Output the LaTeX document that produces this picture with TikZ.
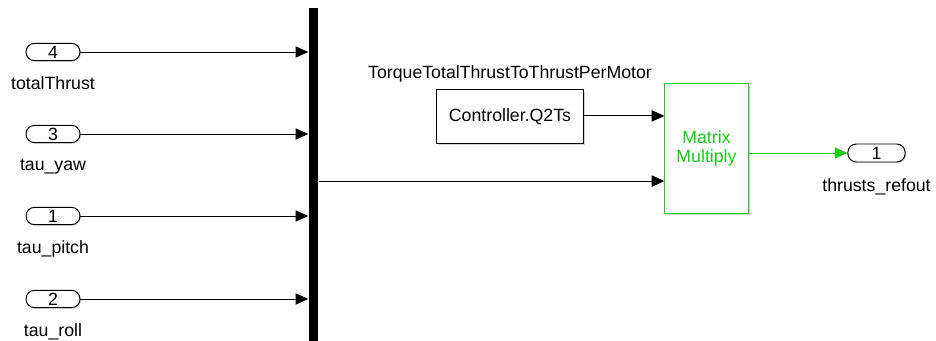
\documentclass[tikz,border=0pt]{standalone}
\usepackage{fontspec}
\setmainfont{Liberation Sans}
\usetikzlibrary{positioning,calc,arrows.meta,shadows}
\definecolor{mmgreen}{RGB}{25,205,25}
\tikzset{
  port/.style={draw, rounded corners=0.21cm, minimum width=1.35cm, minimum height=0.43cm,
    inner sep=0pt, fill=white, line width=0.7pt,
    drop shadow={opacity=0.35, shadow xshift=0.8pt, shadow yshift=-0.8pt}},
  blk/.style={draw, fill=white, inner sep=0pt, line width=0.7pt,
    drop shadow={opacity=0.35, shadow xshift=1.4pt, shadow yshift=-1.4pt}},
  portlbl/.style={inner sep=0pt},
}
\begin{document}
\begin{tikzpicture}[x=0.025cm, y=-0.025cm, >={Triangle[length=9pt,width=8pt]},
    font=\fontsize{12.6}{14}\selectfont, line width=0.7pt]
  \useasboundingbox (0,0) rectangle (936,341);
  % inports
  \node[port] (in4) at (53,52) {4};
  \node[port] (in3) at (53,134) {3};
  \node[port] (in1) at (53,216) {1};
  \node[port] (in2) at (53,299) {2};
  \node[portlbl, below=11pt of in4] (lbl4) {totalThrust};
  \node[portlbl, below=11pt of in3] (lbl3) {tau\_yaw};
  \node[portlbl, below=11pt of in1] (lbl1) {tau\_pitch};
  \node[portlbl, below=11pt of in2] (lbl2) {tau\_roll};
  % bus
  \node[fill=black, inner sep=0pt, minimum width=0.24cm, minimum height=8.5cm] (bus) at (313.5,178) {};
  % gain and product
  \node[blk, minimum width=3.65cm, minimum height=1.33cm] (gain) at (510,116.5) {Controller.Q2Ts};
  \node[portlbl, above=5pt of gain] (gainlbl) {TorqueTotalThrustToThrustPerMotor};
  \node[blk, draw=mmgreen, text=mmgreen, align=center, minimum width=2.08cm, minimum height=3.23cm]
    (mmul) at (706.5,148.5) {Matrix\\Multiply};
  % outport
  \node[port, minimum width=1.43cm, minimum height=0.45cm] (out1) at (876.5,153) {1};
  \node[portlbl, below=11pt of out1] (lblout) {thrusts\_refout};
  % connections
  \foreach \p in {in4,in3,in1,in2}
    \draw[->] (\p.east) -- (\p -| bus.west);
  \coordinate (mmin1) at ($(mmul.north west)!0.25!(mmul.south west)$);
  \coordinate (mmin2) at ($(mmul.north west)!0.75!(mmul.south west)$);
  \draw[->] (gain.east |- mmin1) -- (mmin1);
  \draw[->] (bus.east |- mmin2) -- (mmin2);
  \draw[->, mmgreen] (mmul.east |- out1) -- (out1.west);
\end{tikzpicture}
\end{document}
